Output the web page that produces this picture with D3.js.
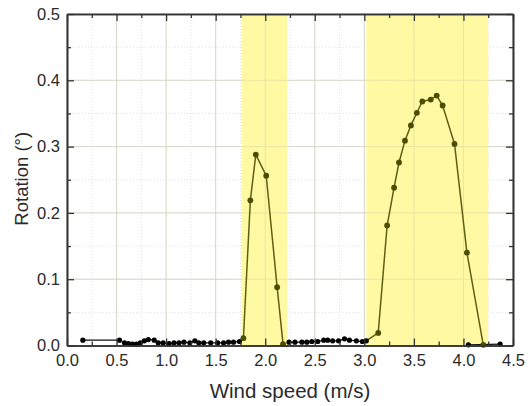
<!DOCTYPE html>
<html>
<head>
<meta charset="utf-8">
<script src="https://cdn.jsdelivr.net/npm/d3@7"></script>
<style>
  html, body { margin: 0; padding: 0; background: #fff; }
  svg { display: block; }
  text { font-family: "Liberation Sans", Arial, sans-serif; fill: #2a2a2a; }
</style>
</head>
<body>
<svg id="chart" width="531" height="406"></svg>
<script>
// Baseline rotation (black markers), wind speed in m/s, rotation in degrees
const baseSeg1 = [[0.16,0.008],[0.53,0.008]];
const baseSeg2 = [[0.58,0.004],[0.62,0.003],[0.66,0.002],[0.70,0.002],[0.74,0.004],[0.78,0.007],
  [0.82,0.009],[0.88,0.008],[0.92,0.004],[0.97,0.004],[1.03,0.003],[1.08,0.004],[1.13,0.004],
  [1.18,0.005],[1.24,0.004],[1.29,0.007],[1.33,0.004],[1.38,0.004],[1.45,0.004],[1.52,0.004],
  [1.58,0.004],[1.63,0.005],[1.68,0.005],[1.74,0.006]];
const baseSeg3 = [[2.24,0.005],[2.30,0.005],[2.37,0.005],[2.42,0.005],[2.47,0.006],[2.53,0.006],
  [2.59,0.008],[2.63,0.008],[2.68,0.007],[2.74,0.007],[2.80,0.010],[2.85,0.008],[2.92,0.007],
  [2.98,0.006],[3.02,0.007]];
const baseSeg4 = [[4.05,0.001],[4.37,0.002]];

// Oscillation episodes (olive markers)
const peakA = [[1.74,0.006],[1.78,0.011],[1.85,0.219],[1.905,0.288],[2.01,0.256],[2.12,0.088],[2.18,0.002]];
const peakB = [[3.02,0.007],[3.14,0.019],[3.23,0.181],[3.30,0.238],[3.35,0.276],[3.41,0.309],
  [3.47,0.332],[3.53,0.351],[3.585,0.368],[3.67,0.371],[3.73,0.377],[3.79,0.362],[3.91,0.304],
  [4.035,0.140],[4.20,0.001]];

// Shaded wind-speed bands
const bands = [[1.76,2.22],[3.02,4.25]];

const xTicks = [0,0.5,1.0,1.5,2.0,2.5,3.0,3.5,4.0,4.5];
const yTicks = [0,0.1,0.2,0.3,0.4,0.5];
const xMinor = d3.range(0.25,4.5,0.5);
const yMinor = d3.range(0.05,0.5,0.1);

const margin = {left: 67, right: 18, top: 14, bottom: 60};
const W = 531, H = 406;
const iw = W - margin.left - margin.right;
const ih = H - margin.top - margin.bottom - 0.5;

const svg = d3.select("#chart");
const g = svg.append("g").attr("transform", `translate(${margin.left},${margin.top})`);

const x = d3.scaleLinear().domain([0,4.5]).range([0, iw]);
const y = d3.scaleLinear().domain([0,0.5]).range([ih, 0]);

// grid: minor dotted, major solid
const grid = g.append("g");
grid.selectAll("line.vmin").data(xMinor).join("line")
  .attr("x1", d=>x(d)).attr("x2", d=>x(d)).attr("y1",0).attr("y2",ih)
  .attr("stroke","#d9d9d9").attr("stroke-width",0.8).attr("stroke-dasharray","1,2");
grid.selectAll("line.hmin").data(yMinor).join("line")
  .attr("y1", d=>y(d)).attr("y2", d=>y(d)).attr("x1",0).attr("x2",iw)
  .attr("stroke","#d9d9d9").attr("stroke-width",0.8).attr("stroke-dasharray","1,2");
grid.selectAll("line.vmaj").data(xTicks).join("line")
  .attr("x1", d=>x(d)).attr("x2", d=>x(d)).attr("y1",0).attr("y2",ih)
  .attr("stroke","#e0e0e0").attr("stroke-width",1);
grid.selectAll("line.hmaj").data(yTicks).join("line")
  .attr("y1", d=>y(d)).attr("y2", d=>y(d)).attr("x1",0).attr("x2",iw)
  .attr("stroke","#e0e0e0").attr("stroke-width",1);

// shaded bands
g.selectAll("rect.band").data(bands).join("rect")
  .attr("x", d=>x(d[0])).attr("width", d=>x(d[1])-x(d[0]))
  .attr("y", 0).attr("height", ih)
  .attr("fill", "#fff89c").attr("fill-opacity", 0.92);

// gridlines faintly visible through the bands
const gridTop = g.append("g").attr("opacity", 0.35);
gridTop.selectAll("line").data(xTicks).join("line")
  .attr("x1", d=>x(d)).attr("x2", d=>x(d)).attr("y1",0).attr("y2",ih)
  .attr("stroke","#c8c8a0").attr("stroke-width",1);
gridTop.selectAll("line.h").data(yTicks).join("line")
  .attr("y1", d=>y(d)).attr("y2", d=>y(d)).attr("x1",0).attr("x2",iw)
  .attr("stroke","#c8c8a0").attr("stroke-width",1);

const line = d3.line().x(d=>x(d[0])).y(d=>y(d[1]));

// olive episodes
[peakA, peakB].forEach(s => {
  g.append("path").datum(s).attr("d", line)
    .attr("fill","none").attr("stroke","#5f5f14").attr("stroke-width",1.5);
});
// baseline series
[baseSeg1, baseSeg2, baseSeg3, baseSeg4].forEach(s => {
  g.append("path").datum(s).attr("d", line)
    .attr("fill","none").attr("stroke","#111").attr("stroke-width",1.2);
});
[baseSeg1, baseSeg2, baseSeg3, baseSeg4].forEach(s => {
  g.append("g").selectAll("circle").data(s).join("circle")
    .attr("cx", d=>x(d[0])).attr("cy", d=>y(d[1])).attr("r", 2.6).attr("fill","#000");
});
[peakA.slice(1), peakB.slice(1)].forEach(s => {
  g.append("g").selectAll("circle").data(s).join("circle")
    .attr("cx", d=>x(d[0])).attr("cy", d=>y(d[1])).attr("r", 2.9).attr("fill","#4d4d00");
});

// axes with inward ticks, mirrored on top and right
const axStroke = "#333";
function styleAxis(sel) {
  sel.select(".domain").attr("stroke", axStroke).attr("stroke-width", 1.6);
  sel.selectAll(".tick line").attr("stroke", axStroke).attr("stroke-width", 1.3);
  sel.selectAll("text").style("font-size","16.5px").attr("fill","#2a2a2a");
}
const fmt = d3.format(".1f");
const xb = g.append("g").attr("transform", `translate(0,${ih})`)
  .call(d3.axisBottom(x).tickValues(xTicks).tickFormat(fmt).tickSizeInner(-7).tickSizeOuter(0).tickPadding(9));
styleAxis(xb);
const xbm = g.append("g").attr("transform", `translate(0,${ih})`)
  .call(d3.axisBottom(x).tickValues(xMinor).tickFormat("").tickSizeInner(-4).tickSizeOuter(0));
styleAxis(xbm);
const xt = g.append("g")
  .call(d3.axisTop(x).tickValues(xTicks).tickFormat("").tickSizeInner(-7).tickSizeOuter(0));
styleAxis(xt);
const xtm = g.append("g")
  .call(d3.axisTop(x).tickValues(xMinor).tickFormat("").tickSizeInner(-4).tickSizeOuter(0));
styleAxis(xtm);
const yl = g.append("g")
  .call(d3.axisLeft(y).tickValues(yTicks).tickFormat(fmt).tickSizeInner(-7).tickSizeOuter(0).tickPadding(7));
styleAxis(yl);
const ylm = g.append("g")
  .call(d3.axisLeft(y).tickValues(yMinor).tickFormat("").tickSizeInner(-4).tickSizeOuter(0));
styleAxis(ylm);
const yr = g.append("g").attr("transform", `translate(${iw},0)`)
  .call(d3.axisRight(y).tickValues(yTicks).tickFormat("").tickSizeInner(-7).tickSizeOuter(0));
styleAxis(yr);
const yrm = g.append("g").attr("transform", `translate(${iw},0)`)
  .call(d3.axisRight(y).tickValues(yMinor).tickFormat("").tickSizeInner(-4).tickSizeOuter(0));
styleAxis(yrm);

// axis titles
svg.append("text").attr("x", margin.left + iw/2).attr("y", 398)
  .attr("text-anchor","middle").style("font-size","20.5px").attr("fill","#1a1a1a")
  .text("Wind speed (m/s)");
svg.append("text")
  .attr("transform", `translate(28,${margin.top + ih/2 - 1}) rotate(-90)`)
  .attr("text-anchor","middle").style("font-size","18.5px").attr("fill","#1a1a1a")
  .text("Rotation (°)");
</script>
</body>
</html>
